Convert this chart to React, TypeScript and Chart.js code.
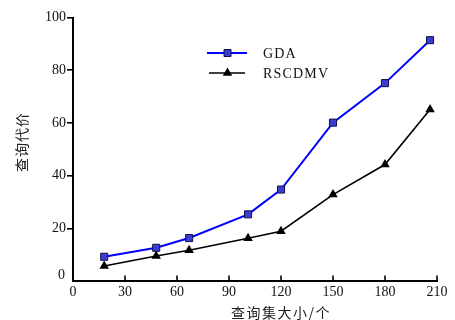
import React, { useEffect, useRef } from "react";
import { Chart, registerables } from "chart.js";

Chart.register(...registerables);

const xValues = [18, 48, 67, 101, 120, 150, 180, 206];
const gdaValues = [9.2, 12.6, 16.3, 25.3, 34.7, 60.1, 75.1, 91.4];
const rscdmvValues = [5.7, 9.5, 11.7, 16.2, 18.9, 32.8, 44.2, 65.1];
const seriesLabels = ["GDA", "RSCDMV"];
const xTitle = "查询集大小/个";
const yTitle = "查询代价";

const SERIF = "'Liberation Serif', 'Times New Roman', serif";
const CJK = "'Noto Sans CJK SC', sans-serif";

const decorPlugin = {
  id: "decor",
  afterDraw(chart: any) {
    const ctx = chart.ctx as CanvasRenderingContext2D;
    const xs = chart.scales.x;
    const ys = chart.scales.y;
    ctx.save();
    // inward x ticks
    ctx.strokeStyle = "#000";
    ctx.lineWidth = 1.6;
    xs.ticks.forEach((t: any) => {
      if (t.value === 0) return;
      const px = xs.getPixelForValue(t.value);
      ctx.beginPath();
      ctx.moveTo(px, ys.bottom);
      ctx.lineTo(px, ys.bottom - 5.5);
      ctx.stroke();
    });
    // raised zero label on y axis
    ctx.fillStyle = "#111";
    ctx.font = `14px ${SERIF}`;
    ctx.textAlign = "right";
    ctx.textBaseline = "middle";
    ctx.fillText("0", ys.left + ys.width - 8, ys.getPixelForValue(0) - 6);
    // legend
    const items = chart.data.datasets;
    const legendY = [53, 73];
    items.forEach((ds: any, i: number) => {
      const y = legendY[i];
      ctx.strokeStyle = ds.borderColor;
      ctx.lineWidth = ds.borderWidth;
      ctx.beginPath();
      ctx.moveTo(i === 0 ? 207 : 209, y);
      ctx.lineTo(i === 0 ? 247 : 245, y);
      ctx.stroke();
      ctx.fillStyle = ds.pointBackgroundColor;
      ctx.strokeStyle = ds.pointBorderColor;
      ctx.lineWidth = ds.pointBorderWidth;
      const cx = 227.5;
      if (ds.pointStyle === "rect") {
        ctx.beginPath();
        ctx.rect(cx - 3.5, y - 3.5, 7, 7);
        ctx.fill();
        ctx.stroke();
      } else {
        const r = ds.pointRadius;
        ctx.beginPath();
        for (let k = 0; k < 3; k++) {
          const a = (k * 2 * Math.PI) / 3;
          const px = cx + Math.sin(a) * r;
          const py = y - Math.cos(a) * r;
          if (k === 0) ctx.moveTo(px, py);
          else ctx.lineTo(px, py);
        }
        ctx.closePath();
        ctx.fill();
      }
      ctx.fillStyle = "#111";
      ctx.font = `14px ${SERIF}`;
      (ctx as any).letterSpacing = "1.2px";
      ctx.textAlign = "left";
      ctx.textBaseline = "middle";
      ctx.fillText(ds.label, 263, y + 1);
      (ctx as any).letterSpacing = "0px";
    });
    // x title
    ctx.fillStyle = "#222";
    ctx.font = `14px ${CJK}`;
    (ctx as any).letterSpacing = "1.5px";
    ctx.textAlign = "left";
    ctx.textBaseline = "middle";
    ctx.fillText(xTitle, 231, 313);
    // y title
    (ctx as any).letterSpacing = "1px";
    ctx.translate(22, 142);
    ctx.rotate(-Math.PI / 2);
    ctx.textAlign = "center";
    ctx.fillText(yTitle, 0, 0);
    ctx.restore();
  },
};

export default function App() {
  const ref = useRef<HTMLCanvasElement>(null);
  useEffect(() => {
    document.body.style.margin = "0";
    const chart = new Chart(ref.current!, {
      type: "line",
      data: {
        datasets: [
          {
            label: seriesLabels[0],
            data: xValues.map((x, i) => ({ x, y: gdaValues[i] })),
            borderColor: "#0000ff",
            borderWidth: 2,
            pointStyle: "rect",
            pointRadius: 5,
            pointBackgroundColor: "#3c3cd2",
            pointBorderColor: "#10104a",
            pointBorderWidth: 1,
            tension: 0,
          },
          {
            label: seriesLabels[1],
            data: xValues.map((x, i) => ({ x, y: rscdmvValues[i] })),
            borderColor: "#000000",
            borderWidth: 1.6,
            pointStyle: "triangle",
            pointRadius: 5.5,
            pointBackgroundColor: "#000000",
            pointBorderColor: "#000000",
            pointBorderWidth: 0,
            tension: 0,
          },
        ],
      },
      options: {
        responsive: false,
        animation: false,
        layout: { padding: { left: 0, top: 17.5, right: 18, bottom: 0 } },
        plugins: { legend: { display: false }, tooltip: { enabled: false } },
        scales: {
          x: {
            type: "linear",
            min: 0,
            max: 210,
            afterFit: (s: any) => {
              s.height = 39;
            },
            border: { display: true, color: "#000", width: 2 },
            grid: { display: false, drawTicks: false },
            ticks: {
              stepSize: 30,
              padding: 3,
              color: "#111",
              font: { family: SERIF, size: 14 },
              maxRotation: 0,
            },
          },
          y: {
            min: 0,
            max: 100,
            afterFit: (s: any) => {
              s.width = 73;
            },
            border: { display: true, color: "#000", width: 2 },
            grid: {
              drawOnChartArea: false,
              drawTicks: true,
              tickLength: 6,
              lineWidth: 1.6,
              color: (c: any) => (c.tick && c.tick.value === 0 ? "rgba(0,0,0,0)" : "#000"),
            },
            ticks: {
              stepSize: 20,
              padding: 1,
              color: "#111",
              font: { family: SERIF, size: 14 },
              callback: (v: any) => (v === 0 ? "" : String(v)),
            },
          },
        },
      },
      plugins: [decorPlugin],
    } as any);
    return () => chart.destroy();
  }, []);
  return <canvas ref={ref} width={455} height={320} style={{ display: "block" }} />;
}
